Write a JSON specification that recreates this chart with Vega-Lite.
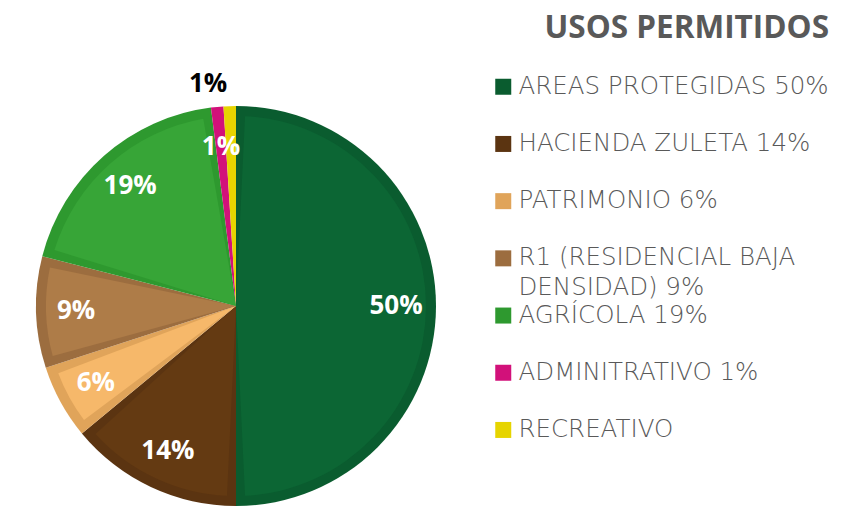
{
  "$schema": "https://vega.github.io/schema/vega-lite/v6.json",
  "width": 472,
  "height": 400,
  "autosize": {"type": "none"},
  "padding": {"left": 0, "top": 106, "right": 386, "bottom": 1},
  "background": "white",
  "data": {
    "values": [
      {"orden": 1, "uso": "AREAS PROTEGIDAS 50%", "valor": 50, "interior": "50%", "exterior": ""},
      {"orden": 2, "uso": "HACIENDA ZULETA 14%", "valor": 14, "interior": "14%", "exterior": ""},
      {"orden": 3, "uso": "PATRIMONIO 6%", "valor": 6, "interior": "6%", "exterior": ""},
      {"orden": 4, "uso": "R1 (RESIDENCIAL BAJA DENSIDAD) 9%", "valor": 9, "interior": "9%", "exterior": ""},
      {"orden": 5, "uso": "AGRÍCOLA 19%", "valor": 19, "interior": "19%", "exterior": ""},
      {"orden": 6, "uso": "ADMINITRATIVO 1%", "valor": 1, "interior": "1%", "exterior": ""},
      {"orden": 7, "uso": "RECREATIVO", "valor": 1, "interior": "", "exterior": "1%"}
    ]
  },
  "encoding": {
    "theta": {"field": "valor", "type": "quantitative", "stack": true},
    "order": {"field": "orden", "type": "quantitative"}
  },
  "layer": [
    {
      "mark": {"type": "arc", "outerRadius": 200},
      "encoding": {
        "color": {
          "field": "uso",
          "type": "nominal",
          "sort": null,
          "scale": {
            "domain": ["AREAS PROTEGIDAS 50%", "HACIENDA ZULETA 14%", "PATRIMONIO 6%", "R1 (RESIDENCIAL BAJA DENSIDAD) 9%", "AGRÍCOLA 19%", "ADMINITRATIVO 1%", "RECREATIVO"],
            "range": ["#0a5c2f", "#5b3411", "#e0a45a", "#9c6d3f", "#2e992f", "#d2117a", "#e6d400"]
          },
          "legend": {
            "orient": "none",
            "legendX": 491,
            "legendY": -93,
            "padding": 0,
            "title": "USOS PERMITIDOS",
            "titleFont": "Open Sans",
            "titleFontSize": 31.5,
            "titleFontWeight": "bold",
            "titleColor": "#595959",
            "titleAnchor": "end",
            "titlePadding": 30,
            "titleLimit": 400,
            "labelFont": "DejaVu Sans",
            "labelFontWeight": 200,
            "labelFontSize": 24.5,
            "labelColor": "#595959",
            "labelLimit": 400,
            "labelOffset": 3,
            "symbolType": "square",
            "symbolSize": 256,
            "symbolStrokeWidth": 0,
            "rowPadding": 2.2,
            "labelExpr": "datum.label == 'R1 (RESIDENCIAL BAJA DENSIDAD) 9%' ? ['R1 (RESIDENCIAL BAJA', 'DENSIDAD) 9%'] : [datum.label, ' ']",
            "encode": {"labels": {"update": {"lineHeight": {"value": 30}}}}
          }
        }
      }
    },
    {
      "mark": {"type": "arc", "outerRadius": 190, "padAngle": 0.095},
      "encoding": {
        "color": {
          "field": "uso",
          "type": "nominal",
          "sort": null,
          "scale": {
            "domain": ["AREAS PROTEGIDAS 50%", "HACIENDA ZULETA 14%", "PATRIMONIO 6%", "R1 (RESIDENCIAL BAJA DENSIDAD) 9%", "AGRÍCOLA 19%", "ADMINITRATIVO 1%", "RECREATIVO"],
            "range": ["#0c6634", "#643a12", "#f6b86a", "#ae7c48", "#37a537", "#d2117a", "#e6d400"]
          },
          "legend": null
        }
      }
    },
    {
      "mark": {"type": "text", "radius": 160, "font": "Open Sans", "fontSize": 26, "fontWeight": "bold", "color": "white"},
      "encoding": {"text": {"field": "interior"}}
    },
    {
      "mark": {"type": "text", "radius": 222, "dx": -21, "font": "Open Sans", "fontSize": 26, "fontWeight": "bold", "color": "black"},
      "encoding": {"text": {"field": "exterior"}}
    }
  ],
  "resolve": {"scale": {"color": "independent"}, "legend": {"color": "independent"}},
  "config": {"view": {"stroke": null}}
}
